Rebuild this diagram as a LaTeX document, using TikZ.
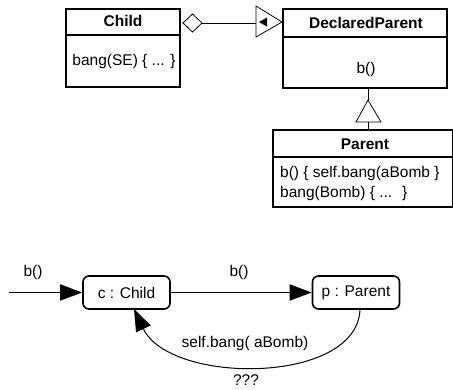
\documentclass[tikz,border=0pt]{standalone}
\usepackage{fontspec}
\setmainfont{Liberation Sans}
\usetikzlibrary{arrows.meta,positioning}
\begin{document}
\begin{tikzpicture}[x=1pt,y=-1pt,
  box/.style={draw,line width=1.8pt},
  sep/.style={line width=1.4pt},
  thin/.style={line width=0.8pt},
  obj/.style={draw,line width=1.6pt,rounded corners=6pt,minimum width=87pt,minimum height=33pt,inner sep=0pt},
  lbl/.style={inner sep=0pt,anchor=center},
  tip/.style={-{Triangle[length=22pt,width=16pt]}},
  msg/.style={line width=1.6pt,tip},
  every node/.style={font=\fontsize{15.5}{19}\selectfont}]
\useasboundingbox (0,0) rectangle (453,389);
% Child class
\draw[box] (66,9) rectangle (180,87);
\draw[sep] (66,35) -- (180,35);
\node[lbl,font=\fontsize{15.5}{19}\selectfont\bfseries] (childname) at (123,21) {Child};
\node[lbl] (childop) at (124,61) {bang(SE) \{ ... \}};
% DeclaredParent class
\draw[box] (283,9) rectangle (447,88);
\draw[sep] (283,37) -- (447,37);
\node[lbl,font=\fontsize{15.5}{19}\selectfont\bfseries] (dpname) at (366,23) {DeclaredParent};
\node[lbl] (dpop) at (366,69) {b()};
% Parent class
\draw[box] (273,130) rectangle (453,207);
\draw[sep] (273,157) -- (453,157);
\node[lbl,font=\fontsize{15.5}{19}\selectfont\bfseries] (pname) at (365,144) {Parent};
\node[lbl,anchor=west] (pop1) at (280,173) {b() \{ self.bang(aBomb \}};
\node[lbl,anchor=west] (pop2) at (280,193) {bang(Bomb) \{ ...~ \}};
% aggregation / dependency
\coordinate (dA) at (183,23);
\coordinate (dB) at (192.5,14);
\coordinate (dC) at (202,23);
\coordinate (dD) at (192.5,32);
\draw[thin,fill=white] (dA) -- (dB) -- (dC) -- (dD) -- cycle;
\coordinate (tB1) at (256,6);
\coordinate (tB2) at (256,37);
\coordinate (tTip) at (282,22);
\draw[thin] (dC) -- (256,23);
\draw[thin,fill=white] (tB1) -- (tTip) -- (tB2) -- cycle;
\fill (259,22) -- (267,17.5) -- (267,26.5) -- cycle;
% generalization
\coordinate (gTop) at (368,88);
\coordinate (gApex) at (368,100);
\coordinate (gL) at (356,122);
\coordinate (gR) at (381,122);
\coordinate (gBot) at (368,130);
\draw[thin] (gTop) -- (gApex);
\draw[thin] (gApex) -- (gL) -- (gR) -- cycle;
\draw[thin] (368,122) -- (gBot);
% object diagram
\node[obj] (c) at (126.5,292.5) {c : Child};
\node[obj] (p) at (356,292.5) {p : Parent};
\coordinate (start) at (9,292.5);
\draw[msg] (start) -- (c.west);
\node[lbl] (b1) at (33,272) {b()};
\draw[msg] (c.east) -- (p.west);
\node[lbl] (b2) at (239,272) {b()};
\draw[line width=1pt,tip] (360,309) .. controls (358,385) and (170,385) .. (134,309);
\node[lbl] (sb) at (245,343) {self.bang( aBomb)};
\node[lbl] (q) at (246,380) {???};
\end{tikzpicture}
\end{document}
